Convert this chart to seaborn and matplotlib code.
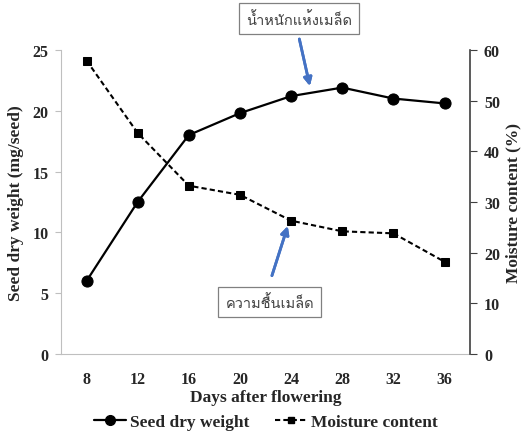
import matplotlib
matplotlib.use("Agg")
import matplotlib.pyplot as plt
from matplotlib import font_manager
from matplotlib.ft2font import FT2Font
from matplotlib.lines import Line2D
import pandas as pd
import seaborn as sns

days = [8, 12, 16, 20, 24, 28, 32, 36]
dry_weight = [6.0, 12.5, 18.0, 19.8, 21.2, 21.9, 21.0, 20.6]
moisture = [57.9, 43.6, 33.2, 31.4, 26.3, 24.2, 23.8, 18.2]

left_ticks = [0, 5, 10, 15, 20, 25]
right_ticks = [0, 10, 20, 30, 40, 50, 60]

label_weight = 'น้ำหนักแห้งเมล็ด'
label_moisture = 'ความชื้นเมล็ด'

sns.set_style("white")
plt.rcParams['font.family'] = ['Liberation Serif', 'DejaVu Serif']
plt.rcParams['font.weight'] = 'bold'


# หาฟอนต์ที่มีอักษรไทย
def find_thai_font():
    for f in font_manager.fontManager.ttflist:
        try:
            cmap = FT2Font(f.fname).get_charmap()
        except Exception:
            continue
        if 0x0E19 in cmap and 0x0E49 in cmap:
            return f.name
    return 'DejaVu Sans'


thai_font = find_thai_font()

df = pd.DataFrame({'days': days, 'dry_weight': dry_weight, 'moisture': moisture})

fig = plt.figure(figsize=(5.27, 4.35), dpi=100)
ax = fig.add_axes([0.1157, 0.184, 0.7763, 0.699])
ax2 = ax.twinx()

dash = (0, (2.5, 1.5))
sns.lineplot(data=df, x='days', y='dry_weight', ax=ax, color='black', lw=1.6,
             marker='o', markersize=8, markeredgecolor='black')
sns.lineplot(data=df, x='days', y='moisture', ax=ax2, color='black', lw=1.5,
             linestyle=dash, marker='s', markersize=5.5, markeredgecolor='black')

ax.set_xlim(6, 38)
ax.set_ylim(0, 25)
ax2.set_ylim(0, 60)
ax.set_yticks(left_ticks)
ax2.set_yticks(right_ticks)
ax.set_xticks(days)
ax.set_xticks([6, 10, 14, 18, 22, 26, 30, 34, 38], minor=True)

grey = '#bfbfbf'
for a in (ax, ax2):
    a.spines['top'].set_visible(False)
ax.spines['left'].set_color(grey)
ax.spines['bottom'].set_color(grey)
ax.spines['right'].set_visible(False)
ax2.spines['left'].set_visible(False)
ax2.spines['bottom'].set_visible(False)
ax2.spines['right'].set_color('#404040')
ax2.spines['right'].set_linewidth(1.2)

ax.tick_params(axis='x', which='major', length=0, pad=12, labelsize=11.5)
ax.tick_params(axis='x', which='minor', length=5, color=grey, direction='out')
ax.tick_params(axis='y', length=4, color=grey, direction='out', pad=5, labelsize=11.5)
ax2.tick_params(axis='y', length=5, color='#404040', direction='out', pad=5, labelsize=11.5)
for lab in ax.get_xticklabels() + ax.get_yticklabels() + ax2.get_yticklabels():
    lab.set_fontweight('bold')

ax.set_xlabel('Days after flowering', fontsize=12.5, fontweight='bold', labelpad=2)
ax.set_ylabel('Seed dry weight (mg/seed)', fontsize=12.5, fontweight='bold', labelpad=6)
ax2.set_ylabel('Moisture content (%)', fontsize=12.5, fontweight='bold', labelpad=4)

handles = [
    Line2D([], [], color='black', lw=1.6, marker='o', markersize=7),
    Line2D([], [], color='black', lw=1.5, linestyle=dash, marker='s', markersize=5),
]
fig.legend(handles, ['Seed dry weight', 'Moisture content'], loc='center',
           bbox_to_anchor=(0.505, 0.028), ncol=2, frameon=False, handlelength=1.8,
           handletextpad=0.25, columnspacing=1.5,
           prop={'family': 'Liberation Serif', 'weight': 'bold', 'size': 12.5})

box = dict(boxstyle='square,pad=0.5', fc='white', ec='#808080', lw=0.9)
fig.text(0.567, 0.955, label_weight, ha='center', va='center', fontsize=10.5,
         color='#404040', family=[thai_font, 'DejaVu Sans'], fontweight='normal', bbox=box)
fig.text(0.512, 0.303, label_moisture, ha='center', va='center', fontsize=10.5,
         color='#404040', family=[thai_font, 'DejaVu Sans'], fontweight='normal', bbox=box)

arrow = dict(arrowstyle='-|>', color='#4472c4', lw=2, mutation_scale=12, shrinkA=0, shrinkB=0)
fig.add_artist(plt.annotate('', xy=(0.588, 0.800), xytext=(0.568, 0.908),
                            xycoords='figure fraction', textcoords='figure fraction',
                            arrowprops=arrow))
fig.add_artist(plt.annotate('', xy=(0.546, 0.478), xytext=(0.516, 0.364),
                            xycoords='figure fraction', textcoords='figure fraction',
                            arrowprops=arrow))

fig.savefig('out.png', dpi=100)
